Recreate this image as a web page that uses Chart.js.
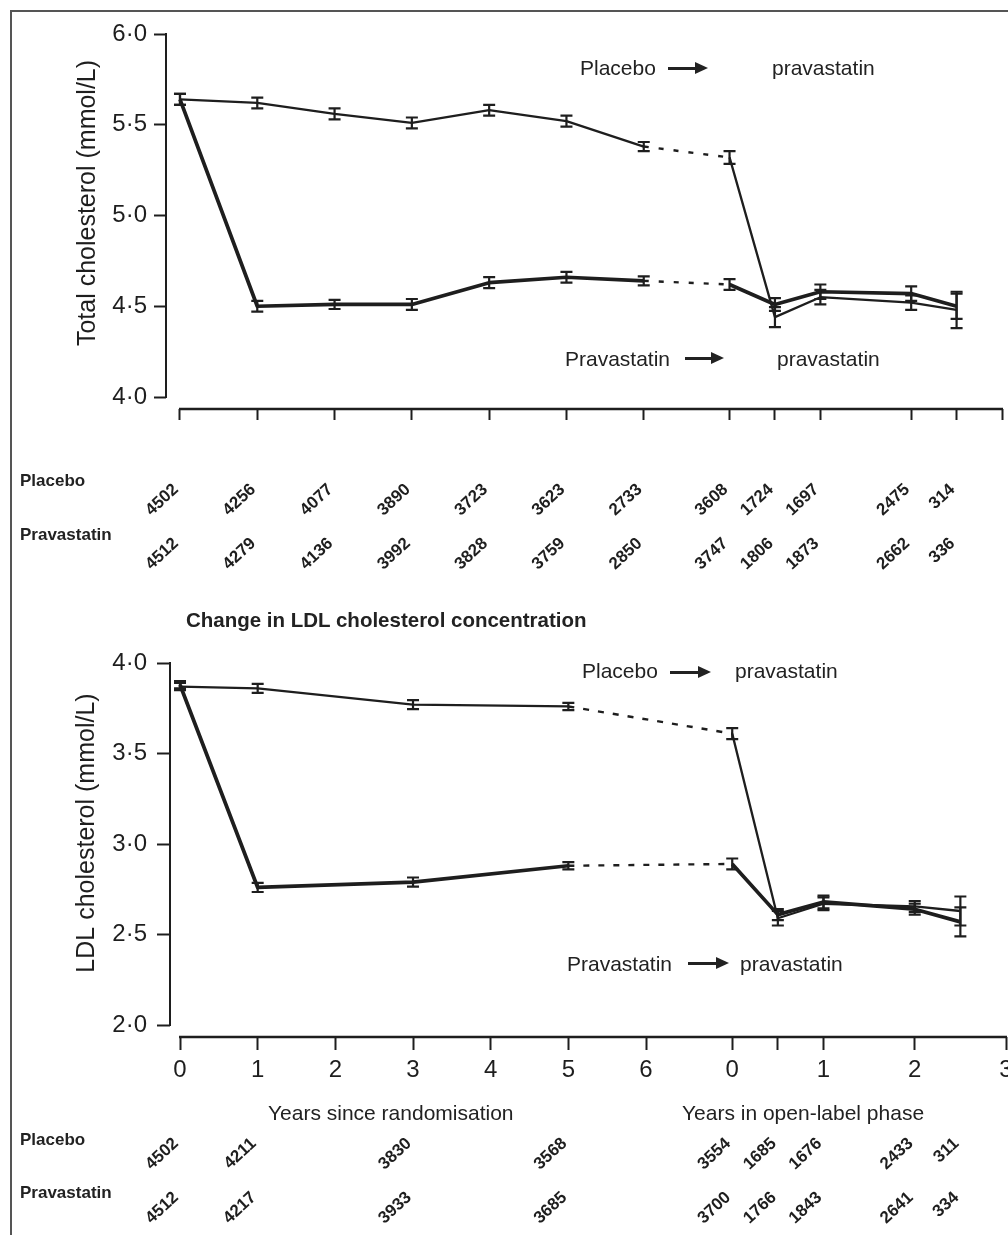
<!DOCTYPE html>
<html><head><meta charset="utf-8">
<script src="https://cdn.jsdelivr.net/npm/chart.js@4.4.1/dist/chart.umd.min.js"></script>
<style>
html,body{margin:0;padding:0;background:#fff;}
#page{position:relative;width:1008px;height:1235px;overflow:hidden;background:#fff;font-family:'Liberation Sans',Arial,sans-serif;color:#222;}
#frame{position:absolute;left:10px;top:10px;width:1100px;height:1300px;border-top:2px solid #555;border-left:2px solid #555;}
canvas{position:absolute;left:0;}
#cTC{top:0;}
#cLDL{top:600px;}
.t{position:absolute;white-space:nowrap;line-height:1;}
.ann{font-size:21px;}
.row{font-size:17px;font-weight:bold;}
.arrow{position:absolute;height:3px;background:#222;}
.arrow::after{content:'';position:absolute;left:100%;top:-5px;border-left:13px solid #222;border-top:6.5px solid transparent;border-bottom:6.5px solid transparent;}
</style></head>
<body>
<div id="page">
  <div id="frame"></div>
  <canvas id="cTC" width="1008" height="600" style="width:1008px;height:600px"></canvas>
  <canvas id="cLDL" width="1008" height="635" style="width:1008px;height:635px"></canvas>

  <div class="t ann" style="left:580px;top:57px">Placebo</div>
  <div class="arrow" style="left:668px;top:67px;width:27px"></div>
  <div class="t ann" style="left:772px;top:57px">pravastatin</div>
  <div class="t ann" style="left:565px;top:348px">Pravastatin</div>
  <div class="arrow" style="left:685px;top:357px;width:26px"></div>
  <div class="t ann" style="left:777px;top:348px">pravastatin</div>

  <div class="t row" style="left:20px;top:472px">Placebo</div>
  <div class="t row" style="left:20px;top:526px">Pravastatin</div>

  <div class="t" style="left:186px;top:610px;font-size:20.5px;font-weight:bold">Change in LDL cholesterol concentration</div>

  <div class="t ann" style="left:582px;top:660px">Placebo</div>
  <div class="arrow" style="left:670px;top:671px;width:28px"></div>
  <div class="t ann" style="left:735px;top:660px">pravastatin</div>
  <div class="t ann" style="left:567px;top:953px">Pravastatin</div>
  <div class="arrow" style="left:688px;top:962px;width:28px"></div>
  <div class="t ann" style="left:740px;top:953px">pravastatin</div>

  <div class="t ann" style="left:268px;top:1102px">Years since randomisation</div>
  <div class="t ann" style="left:682px;top:1102px">Years in open-label phase</div>

  <div class="t row" style="left:20px;top:1131px">Placebo</div>
  <div class="t row" style="left:20px;top:1184px">Pravastatin</div>
</div>
<script>
// ---- shared axis mapping: open-label years are placed after the randomised phase ----
const OPEN0 = 7.11, OPENK = 1.175;
const toAxis = (mainYears, openYears) => mainYears.concat(openYears.map(s => OPEN0 + OPENK * s));

// ---- Total cholesterol (mmol/L) ----
const tcMainYears = [0, 1, 2, 3, 4, 5, 6];
const tcOpenYears = [0, 0.5, 1, 2, 2.5];
const tcPlacebo    = [5.64, 5.62, 5.56, 5.51, 5.58, 5.52, 5.38, 5.32, 4.44, 4.55, 4.52, 4.48];
const tcPlaceboErr = [0.03, 0.03, 0.03, 0.03, 0.03, 0.03, 0.025, 0.035, 0.055, 0.04, 0.04, 0.10];
const tcPrava      = [5.64, 4.50, 4.51, 4.51, 4.63, 4.66, 4.64, 4.62, 4.51, 4.58, 4.57, 4.50];
const tcPravaErr   = [0.03, 0.03, 0.025, 0.03, 0.03, 0.03, 0.025, 0.03, 0.035, 0.04, 0.04, 0.07];
const tcNPlacebo   = [4502, 4256, 4077, 3890, 3723, 3623, 2733, 3608, 1724, 1697, 2475, 314];
const tcNPrava     = [4512, 4279, 4136, 3992, 3828, 3759, 2850, 3747, 1806, 1873, 2662, 336];
const tcYTicks     = [4.0, 4.5, 5.0, 5.5, 6.0];
const tcXTickMain  = [0, 1, 2, 3, 4, 5, 6];
const tcXTickOpen  = [0, 0.5, 1, 2, 2.5, 3];

// ---- LDL cholesterol (mmol/L) ----
const ldlMainYears = [0, 1, 3, 5];
const ldlOpenYears = [0, 0.5, 1, 2, 2.5];
const ldlPlacebo    = [3.87, 3.86, 3.77, 3.76, 3.61, 2.59, 2.67, 2.655, 2.63];
const ldlPlaceboErr = [0.02, 0.025, 0.025, 0.02, 0.03, 0.04, 0.035, 0.03, 0.08];
const ldlPrava      = [3.88, 2.76, 2.79, 2.88, 2.89, 2.61, 2.68, 2.64, 2.57];
const ldlPravaErr   = [0.02, 0.025, 0.025, 0.02, 0.03, 0.03, 0.035, 0.03, 0.08];
const ldlNPlacebo   = [4502, 4211, 3830, 3568, 3554, 1685, 1676, 2433, 311];
const ldlNPrava     = [4512, 4217, 3933, 3685, 3700, 1766, 1843, 2641, 334];
const ldlYTicks     = [2.0, 2.5, 3.0, 3.5, 4.0];
const ldlXTickMain  = [0, 1, 2, 3, 4, 5, 6];
const ldlXTickOpen  = [0, 0.5, 1, 2, 3];
const ldlXTickLabels = ['0', '1', '2', '3', '4', '5', '6', '0', '', '1', '2', '3'];

const FONT = "'Liberation Sans', Arial, sans-serif";
const INK = '#1e1e1e';
Chart.defaults.font.family = FONT;
Chart.defaults.color = INK;

const errorBarsPlugin = {
  id: 'errorBars',
  afterDatasetsDraw(chart) {
    const ctx = chart.ctx, y = chart.scales.y;
    ctx.save();
    ctx.strokeStyle = INK; ctx.lineWidth = 2.2; ctx.lineCap = 'butt';
    chart.data.datasets.forEach((ds, di) => {
      const meta = chart.getDatasetMeta(di);
      meta.data.forEach((pt, i) => {
        const v = ds.data[i].y, e = ds.errors[i];
        const y1 = y.getPixelForValue(v - e), y2 = y.getPixelForValue(v + e), x = pt.x;
        ctx.beginPath();
        ctx.moveTo(x, y1); ctx.lineTo(x, y2);
        ctx.moveTo(x - 6, y1); ctx.lineTo(x + 6, y1);
        ctx.moveTo(x - 6, y2); ctx.lineTo(x + 6, y2);
        ctx.stroke();
      });
    });
    ctx.restore();
  }
};

const axisLinesPlugin = {
  id: 'axisLines',
  afterDraw(chart, args, o) {
    const ctx = chart.ctx, xs = chart.scales.x, ys = chart.scales.y, ca = chart.chartArea;
    ctx.save();
    ctx.strokeStyle = INK;
    ctx.lineWidth = 2;
    ctx.beginPath();
    ctx.moveTo(ca.left, ys.getPixelForValue(o.yFrom) + 1);
    ctx.lineTo(ca.left, ys.getPixelForValue(o.yTo) - 1);
    ctx.stroke();
    ctx.lineWidth = 2.6;
    ctx.beginPath();
    ctx.moveTo(xs.getPixelForValue(o.xFrom) - 1, ca.bottom);
    ctx.lineTo(xs.getPixelForValue(o.xTo) + 1, ca.bottom);
    ctx.stroke();
    ctx.restore();
  }
};

const countsPlugin = {
  id: 'counts',
  afterDraw(chart, args, o) {
    const ctx = chart.ctx, xs = chart.scales.x;
    ctx.save();
    ctx.fillStyle = INK;
    ctx.font = 'bold 17px ' + FONT;
    ctx.textAlign = 'right';
    ctx.textBaseline = 'middle';
    o.rows.forEach(row => {
      row.values.forEach((n, i) => {
        ctx.save();
        ctx.translate(xs.getPixelForValue(o.positions[i]) - 4, row.y);
        ctx.rotate(-43 * Math.PI / 180);
        ctx.fillText(String(n), 0, 0);
        ctx.restore();
      });
    });
    ctx.restore();
  }
};

const yTitlePlugin = {
  id: 'yTitle',
  afterDraw(chart, args, o) {
    const ctx = chart.ctx;
    ctx.save();
    ctx.fillStyle = INK;
    ctx.font = '25px ' + FONT;
    ctx.translate(o.x, o.y);
    ctx.rotate(-Math.PI / 2);
    ctx.textAlign = 'center';
    ctx.textBaseline = 'middle';
    ctx.fillText(o.text, 0, 0);
    ctx.restore();
  }
};

function build(id, o) {
  const xs = toAxis(o.mainYears, o.openYears);
  const pts = arr => arr.map((v, i) => ({ x: xs[i], y: v }));
  const lastMain = o.mainYears.length - 1;
  const xTicks = toAxis(o.xTickMain, o.xTickOpen);
  const xMax = xTicks[xTicks.length - 1];
  const seg = {
    borderDash: c => (c.p0DataIndex === lastMain ? o.dash : undefined),
    borderWidth: c => (c.p0DataIndex === lastMain ? 2.4 : undefined)
  };
  return new Chart(document.getElementById(id), {
    type: 'line',
    data: {
      datasets: [
        { label: 'Placebo', data: pts(o.placebo), errors: o.placeboErr, borderColor: INK, borderWidth: 2.3, segment: seg },
        { label: 'Pravastatin', data: pts(o.prava), errors: o.pravaErr, borderColor: INK, borderWidth: 3.7, segment: seg }
      ]
    },
    options: {
      responsive: false, animation: false, devicePixelRatio: 1, events: [],
      layout: { padding: o.padding },
      elements: {
        point: { radius: 0, hoverRadius: 0 },
        line: { tension: 0, borderJoinStyle: 'round', borderCapStyle: 'butt' }
      },
      plugins: {
        legend: { display: false },
        tooltip: { enabled: false },
        axisLines: { yFrom: o.yTicks[0], yTo: o.yTicks[o.yTicks.length - 1], xFrom: 0, xTo: xMax },
        counts: { positions: xs, rows: [{ values: o.nPlacebo, y: o.rowY[0] }, { values: o.nPrava, y: o.rowY[1] }] },
        yTitle: { text: o.yTitle, x: o.yTitleX, y: o.yTitleY }
      },
      scales: {
        x: {
          type: 'linear', min: o.xMin, max: xMax, bounds: 'data',
          afterBuildTicks: s => { s.ticks = xTicks.map(v => ({ value: v })); },
          afterFit: s => { s.height = o.xAxisHeight; s.paddingLeft = 0; s.paddingRight = 0; },
          grid: { drawOnChartArea: false, drawTicks: true, tickLength: o.xTickLen, tickWidth: 2, tickColor: INK },
          border: { display: false },
          ticks: {
            display: !!o.xLabels, autoSkip: false, maxRotation: 0, minRotation: 0, padding: 6, color: INK,
            font: { size: 24 },
            callback: (v, i) => (o.xLabels ? o.xLabels[i] : '')
          }
        },
        y: {
          type: 'linear', min: o.yMin, max: o.yMax, bounds: 'data',
          afterBuildTicks: s => { s.ticks = o.yTicks.map(v => ({ value: v })); },
          afterFit: s => { s.width = o.yAxisWidth; s.paddingTop = 0; s.paddingBottom = 0; },
          grid: { drawOnChartArea: false, drawTicks: true, tickLength: o.yTickLen, tickWidth: 2, tickColor: INK },
          border: { display: false },
          ticks: {
            padding: o.yLabelPad, color: INK, font: { size: 24 },
            callback: v => v.toFixed(1).replace('.', '\u00B7')
          }
        }
      }
    },
    plugins: [errorBarsPlugin, axisLinesPlugin, countsPlugin, yTitlePlugin]
  });
}

build('cTC', {
  mainYears: tcMainYears, openYears: tcOpenYears,
  placebo: tcPlacebo, placeboErr: tcPlaceboErr, prava: tcPrava, pravaErr: tcPravaErr,
  nPlacebo: tcNPlacebo, nPrava: tcNPrava, rowY: [487, 541],
  yTicks: tcYTicks, xTickMain: tcXTickMain, xTickOpen: tcXTickOpen, xLabels: null,
  xMin: -0.181, yMin: 3.934, yMax: 6.0,
  padding: { left: 0, top: 34, right: 6, bottom: 179 },
  xAxisHeight: 12, xTickLen: 11, yAxisWidth: 166, yTickLen: 12, yLabelPad: 7,
  dash: [5, 10],
  yTitle: 'Total cholesterol (mmol/L)', yTitleX: 88, yTitleY: 203
});

build('cLDL', {
  mainYears: ldlMainYears, openYears: ldlOpenYears,
  placebo: ldlPlacebo, placeboErr: ldlPlaceboErr, prava: ldlPrava, pravaErr: ldlPravaErr,
  nPlacebo: ldlNPlacebo, nPrava: ldlNPrava, rowY: [541, 595],
  yTicks: ldlYTicks, xTickMain: ldlXTickMain, xTickOpen: ldlXTickOpen, xLabels: ldlXTickLabels,
  xMin: -0.129, yMin: 1.934, yMax: 4.0,
  padding: { left: 0, top: 63, right: 2, bottom: 150 },
  xAxisHeight: 48, xTickLen: 13, yAxisWidth: 170, yTickLen: 13, yLabelPad: 10,
  dash: [6, 9],
  yTitle: 'LDL cholesterol (mmol/L)', yTitleX: 87, yTitleY: 233
});
</script>
</body></html>
